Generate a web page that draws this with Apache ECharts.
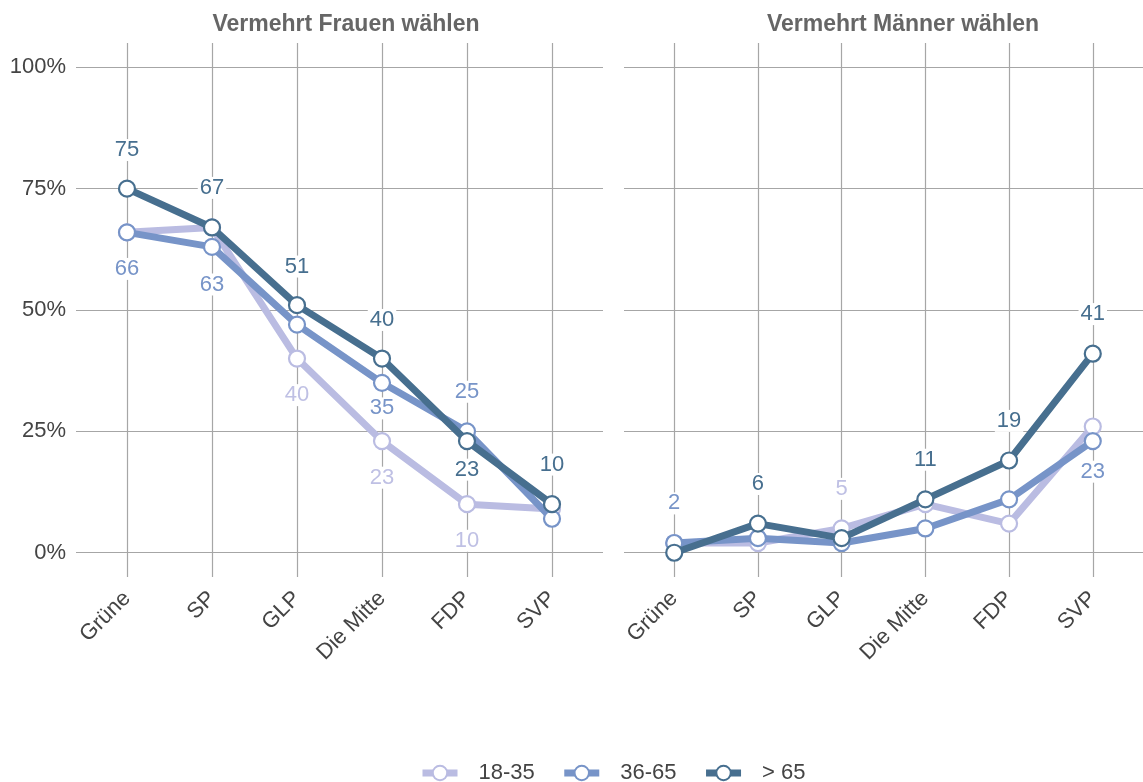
<!DOCTYPE html>
<html>
<head>
<meta charset="utf-8">
<script src="https://cdn.jsdelivr.net/npm/echarts@6/dist/echarts.min.js"></script>
<style>
  html, body { margin: 0; padding: 0; background: #fff; }
  #chart { width: 1143px; height: 782px; }
</style>
</head>
<body>
<div id="chart"></div>
<script>
const parties = ['Grüne', 'SP', 'GLP', 'Die Mitte', 'FDP', 'SVP']
const groups = ['18-35', '36-65', '> 65']
const yTicks = [0, 25, 50, 75, 100]

// Vermehrt Frauen wählen (%)
const frauen1835 = [66, 67, 40, 23, 10, 9]
const frauen3665 = [66, 63, 47, 35, 25, 7]
const frauen65 = [75, 67, 51, 40, 23, 10]

// Vermehrt Männer wählen (%)
const maenner1835 = [2, 2, 5, 10, 6, 26]
const maenner3665 = [2, 3, 2, 5, 11, 23]
const maenner65 = [0, 6, 3, 11, 19, 41]

// which values get a label: offset of label centre from point (+ above, - below), null = none
const frauenLabelOff = [
  [null, null, -37, -37, -37, null],
  [-37, -38, null, -26, 40, null],
  [39, 40, 39, 39, -29, 40]
]
const maennerLabelOff = [
  [null, null, 40, null, null, null],
  [40, null, null, null, null, -31],
  [null, 40, null, 40, 40, 40]
]

const colors = ['#babce2', '#7794c8', '#476f8f']
const labelColors = ['#bfc0e4', '#7794c8', '#476f8f']
const FONT = 'Liberation Sans, Arial, sans-serif'
const FS = 22

const el = document.getElementById('chart')
const chart = echarts.init(el)

function buildSeries(values, offsets, gi, k) {
  const data = values.map((v, i) => {
    const off = offsets[i]
    const item = { value: [i, v] }
    if (off != null) {
      item.label = {
        show: true,
        position: off > 0 ? 'top' : 'bottom',
        distance: Math.max(0, Math.abs(off) - 12.5 - 8)
      }
    }
    return item
  })
  return {
    name: groups[k],
    type: 'line',
    xAxisIndex: gi,
    yAxisIndex: gi,
    data,
    symbol: 'circle',
    symbolSize: 16,
    z: 2 + k,
    lineStyle: { color: colors[k], width: 7 },
    itemStyle: { color: '#fff', borderColor: colors[k], borderWidth: 2.2 },
    label: {
      show: false,
      color: labelColors[k],
      fontSize: FS,
      fontFamily: FONT,
      backgroundColor: '#fff',
      padding: [0, 2],
      formatter: p => p.value[1]
    },
    emphasis: { disabled: true },
    animation: false
  }
}

const xAxisBase = gi => ({
  type: 'value',
  gridIndex: gi,
  min: -0.6,
  max: 5.6,
  axisLine: { show: false },
  axisTick: { show: false, customValues: [0, 1, 2, 3, 4, 5] },
  splitLine: { show: true, lineStyle: { color: '#a6a6a6', width: 1.2 } },
  axisLabel: {
    customValues: [0, 1, 2, 3, 4, 5],
    formatter: v => parties[v],
    rotate: 45,
    margin: 18,
    color: '#444',
    fontSize: FS,
    fontFamily: FONT
  }
})

const yAxisBase = (gi, showLabel) => ({
  type: 'value',
  gridIndex: gi,
  min: -5,
  max: 105,
  axisLine: { show: false },
  axisTick: { show: false, customValues: yTicks },
  splitLine: { show: true, lineStyle: { color: '#a6a6a6', width: 1.2 } },
  axisLabel: {
    show: showLabel,
    customValues: yTicks,
    formatter: '{value}%',
    margin: 10,
    color: '#444',
    fontSize: FS,
    fontFamily: FONT
  }
})

const frauen = [frauen1835, frauen3665, frauen65]
const maenner = [maenner1835, maenner3665, maenner65]

chart.setOption({
  backgroundColor: '#fff',
  title: [
    { text: 'Vermehrt Frauen wählen', left: 341, top: 8, textAlign: 'center',
      textStyle: { color: '#666', fontSize: 23, fontWeight: 'bold', fontFamily: FONT } },
    { text: 'Vermehrt Männer wählen', left: 898, top: 8, textAlign: 'center',
      textStyle: { color: '#666', fontSize: 23, fontWeight: 'bold', fontFamily: FONT } }
  ],
  legend: {
    data: groups,
    left: 414,
    top: 757,
    itemWidth: 35,
    itemHeight: 18,
    itemGap: 26,
    lineStyle: { width: 7 },
    itemStyle: { borderWidth: 2 },
    textStyle: { color: '#444', fontSize: FS, fontFamily: FONT, padding: [0, 0, 0, 16] }
  },
  grid: [
    { left: 76, top: 43, width: 527, height: 534 },
    { left: 624, top: 43, width: 527, height: 534 }
  ],
  xAxis: [xAxisBase(0), xAxisBase(1)],
  yAxis: [yAxisBase(0, true), yAxisBase(1, false)],
  series: [
    ...frauen.map((vals, k) => buildSeries(vals, frauenLabelOff[k], 0, k)),
    ...maenner.map((vals, k) => buildSeries(vals, maennerLabelOff[k], 1, k))
  ]
})

window.addEventListener('resize', () => chart.resize())
</script>
</body>
</html>
